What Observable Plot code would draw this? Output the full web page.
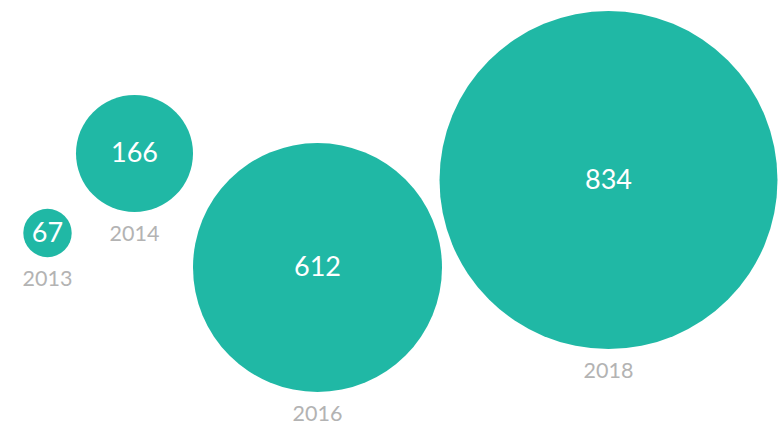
<!DOCTYPE html>
<html>
<head>
<meta charset="utf-8">
<script src="https://cdn.jsdelivr.net/npm/d3@7"></script>
<script src="https://cdn.jsdelivr.net/npm/@observablehq/plot@0.6"></script>
<style>
  html, body { margin: 0; padding: 0; background: #fff; }
  #chart { width: 780px; height: 425px; }
</style>
</head>
<body>
<div id="chart"></div>
<script>
// Data
const years  = [2013, 2014, 2016, 2018];
const counts = [67, 166, 612, 834];

// Layout (bubble arrangement of the original graphic)
const layoutX = [47, 134, 317, 608];
const layoutY = [232.5, 153, 267, 179.5];
const rDomain = [0, 67, 166, 612, 834];
const rRange  = [0, 24.2, 58.5, 124.5, 169];

const rFn = d3.scaleLinear().domain(rDomain).range(rRange);
const data = years.map((y, i) => ({
  year: y, count: counts[i], px: layoutX[i], py: layoutY[i],
  labelY: layoutY[i] + rFn(counts[i]) + 22
}));

const font = "Lato, 'Open Sans', sans-serif";
const plot = Plot.plot({
  width: 780,
  height: 425,
  margin: 0,
  x: {type: "identity", axis: null},
  y: {type: "identity", axis: null},
  r: {type: "linear", domain: rDomain, range: rRange, clamp: false},
  style: {fontFamily: font, background: "#fff"},
  marks: [
    Plot.dot(data, {x: "px", y: "py", r: "count", fill: "#20b8a5", stroke: "none"}),
    Plot.text(data, {x: "px", y: "py", text: d => String(d.count), fill: "#ffffff",
      fontSize: 27, fontWeight: 400, fontFamily: font, textAnchor: "middle", lineAnchor: "middle"}),
    Plot.text(data, {x: "px", y: "labelY", text: d => String(d.year), fill: "#b3b3b3",
      fontSize: 21.5, fontWeight: 400, fontFamily: font, textAnchor: "middle", lineAnchor: "middle"})
  ]
});
document.getElementById("chart").appendChild(plot);
</script>
</body>
</html>
